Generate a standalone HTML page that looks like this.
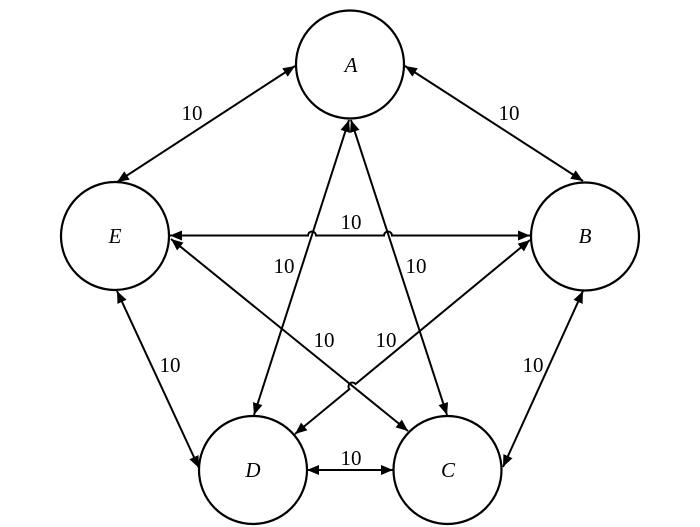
<!DOCTYPE html>
<html>
<head>
<meta charset="utf-8">
<style>
html,body{margin:0;padding:0;background:#fff;}
svg{display:block;}
text{font-family:"Liberation Serif","Times New Roman",serif;fill:#000;}
.lbl{font-size:21px;text-anchor:middle;}
.node{font-size:21px;font-style:italic;text-anchor:middle;}
</style>
</head>
<body>
<svg width="700" height="527" viewBox="0 0 700 527" xmlns="http://www.w3.org/2000/svg">
<defs>
<marker id="ah" markerUnits="userSpaceOnUse" markerWidth="14" markerHeight="12" refX="12" refY="5" orient="auto-start-reverse">
<path d="M0,0 L12,5 L0,10 z" fill="#000"/>
</marker>
</defs>
<g fill="#fff" stroke="#000" stroke-width="2.2">
<circle cx="350" cy="64.5" r="54"/>
<circle cx="115" cy="236" r="54"/>
<circle cx="585" cy="236.5" r="54"/>
<circle cx="253" cy="470" r="54"/>
<circle cx="447.5" cy="470" r="54"/>
</g>
<g fill="none" stroke="#000" stroke-width="2" marker-start="url(#ah)" marker-end="url(#ah)">
<path d="M295,66 L117,182"/>
<path d="M405,66 L583,181"/>
<path d="M170,235.5 H308 A4,4 0 0 1 316,235.5 H384 A4,4 0 0 1 392,235.5 H530"/>
<path d="M349,120 L254,415"/>
<path d="M351,120 L447,415"/>
<path d="M171,239 L408,431"/>
<path d="M530,240 L355.6,384 A4,4 0 0 0 349.4,389.1 L295,434"/>
<path d="M117,291 L199,468"/>
<path d="M583,291 L503,467"/>
<path d="M307,470 L393,470"/>
</g>
<text class="node" x="351" y="72">A</text>
<text class="node" x="115" y="243">E</text>
<text class="node" x="585" y="243">B</text>
<text class="node" x="253" y="477">D</text>
<text class="node" x="448" y="477">C</text>
<text class="lbl" x="192" y="120">10</text>
<text class="lbl" x="509" y="120">10</text>
<text class="lbl" x="351" y="229">10</text>
<text class="lbl" x="284" y="273">10</text>
<text class="lbl" x="416" y="273">10</text>
<text class="lbl" x="324" y="347">10</text>
<text class="lbl" x="386" y="347">10</text>
<text class="lbl" x="170" y="372">10</text>
<text class="lbl" x="533" y="372">10</text>
<text class="lbl" x="351" y="465">10</text>
</svg>
</body>
</html>
